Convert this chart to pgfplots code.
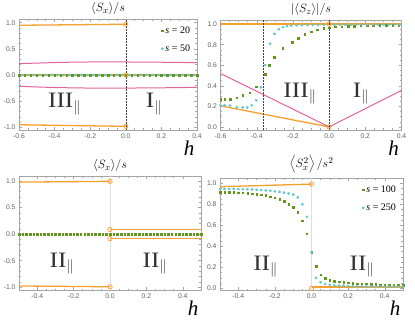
\documentclass[border=0pt]{standalone}
\usepackage{pgfplots}
\pgfplotsset{compat=1.18}
\usepackage{fontspec}
\setmainfont{Liberation Serif}
\newfontfamily\tickfont{Liberation Sans}
\definecolor{mOrange}{RGB}{247,160,45}
\definecolor{mPink}{RGB}{222,100,155}
\definecolor{mGreen}{RGB}{100,150,30}
\definecolor{mCyan}{RGB}{95,200,210}
\definecolor{frameGray}{RGB}{165,165,165}
\definecolor{labGray}{RGB}{95,95,95}
\definecolor{regText}{RGB}{50,50,50}

\newcommand{\reg}[1]{\scalebox{1.15}[1]{#1}$_{\parallel}$}
\tikzset{reg/.style={inner sep=0pt, text=regText, font=\fontsize{22}{22}\selectfont}}
\pgfplotsset{
  mma/.style={
    scale only axis, anchor=south west,
    axis line style={frameGray, line width=0.5pt},
    tick align=inside, xtick pos=both, ytick pos=both,
    xticklabel pos=lower, yticklabel pos=left,
    major tick length=3pt, minor tick length=1.6pt,
    every tick/.style={frameGray, line width=0.4pt},
    tick label style={font=\tickfont\fontsize{6.8}{7}\selectfont, text=labGray},
    /pgf/number format/assume math mode=true,
    /pgf/number format/fixed, /pgf/number format/fixed zerofill,
    /pgf/number format/precision=1,
    title style={font=\fontsize{13}{15}\selectfont, yshift=-5pt},
    xlabel style={at={(rel axis cs:1,0)}, anchor=north east, yshift=-7pt, xshift=1pt,
      font=\fontsize{21}{21}\selectfont},
    legend style={draw=none, fill=none, font=\fontsize{10}{11}\selectfont,
      at={(0.99,0.97)}, anchor=north east, row sep=6pt},
    legend cell align=left,
  },
  oline/.style={mOrange, line width=1.3pt, forget plot},
  pline/.style={mPink, line width=1pt, forget plot},
  vdash/.style={black!75, line width=0.4pt, dash pattern=on 1.6pt off 1.4pt, forget plot},
  ocirc/.style={only marks, mark=o, mark size=2.2pt, mOrange, mark options={line width=0.7pt}, forget plot},
  gdots/.style={only marks, mark=square*, mark size=0.75pt, mGreen},
  cdots/.style={only marks, mark=*, mark size=1.2pt, mCyan},
}

\begin{document}
\begin{tikzpicture}
\path[use as bounding box] (0,0) rectangle (415pt,323pt);

% ---- top left
\begin{axis}[mma, at={(19pt,193pt)}, width=178pt, height=111pt,
  xmin=-0.6, xmax=0.4, ymin=-1.05, ymax=1.07,
  xtick={-0.6,-0.4,...,0.4}, ytick={-1,-0.5,0,0.5,1},
  minor x tick num=3, minor y tick num=4,
  title={$\langle S_x\rangle/s$}, xlabel={\textit{h}}]
\addplot[oline] coordinates {(-0.6,0.95) (0,0.97)};
\addplot[oline] coordinates {(-0.6,-0.95) (0,-0.98)};
\addplot[oline] coordinates {(-0.6,0) (0.4,0)};
\addplot[pline, smooth] coordinates {(-0.6,0.215) (-0.5,0.228) (-0.4,0.238) (-0.3,0.245) (-0.2,0.249) (-0.1,0.25) (0,0.249) (0.1,0.247) (0.2,0.244) (0.3,0.24) (0.4,0.236)};
\addplot[pline, smooth] coordinates {(-0.6,-0.215) (-0.5,-0.228) (-0.4,-0.238) (-0.3,-0.245) (-0.2,-0.249) (-0.1,-0.25) (0,-0.249) (0.1,-0.247) (0.2,-0.244) (0.3,-0.24) (0.4,-0.236)};
\addplot[vdash] coordinates {(0,-1.05) (0,1.07)};
\addplot[gdots] coordinates {(-0.6,0) (-0.5667,0) (-0.5333,0) (-0.5,0) (-0.4667,0) (-0.4333,0) (-0.4,0) (-0.3667,0) (-0.3333,0) (-0.3,0) (-0.2667,0) (-0.2333,0) (-0.2,0) (-0.1667,0) (-0.1333,0) (-0.1,0) (-0.0667,0) (-0.0333,0) (0,0) (0.0333,0) (0.0667,0) (0.1,0) (0.1333,0) (0.1667,0) (0.2,0) (0.2333,0) (0.2667,0) (0.3,0) (0.3333,0) (0.3667,0) (0.4,0)};
\addplot[cdots] coordinates {(-0.5833,0) (-0.55,0) (-0.5167,0) (-0.4833,0) (-0.45,0) (-0.4167,0) (-0.3833,0) (-0.35,0) (-0.3167,0) (-0.2833,0) (-0.25,0) (-0.2167,0) (-0.1833,0) (-0.15,0) (-0.1167,0) (-0.0833,0) (-0.05,0) (-0.0167,0) (0.0167,0) (0.05,0) (0.0833,0) (0.1167,0) (0.15,0) (0.1833,0) (0.2167,0) (0.25,0) (0.2833,0) (0.3167,0) (0.35,0) (0.3833,0)};
\addplot[ocirc] coordinates {(0,0.97) (0,0) (0,-0.98)};
\legend{\textit{s} = 20, \textit{s} = 50}
\node[reg, anchor=base] at (axis cs:-0.344,-0.62) {\reg{III}};
\node[reg, anchor=base] at (axis cs:0.158,-0.62) {\reg{I}};
\end{axis}

% ---- top right
\begin{axis}[mma, at={(220.5pt,193pt)}, width=181pt, height=110pt,
  xmin=-0.6, xmax=0.4, ymin=-0.03, ymax=1.04,
  xtick={-0.6,-0.4,...,0.4}, ytick={0,0.2,...,1.0},
  minor x tick num=3, minor y tick num=3,
  title={$|\langle S_z\rangle|/s$}, xlabel={\textit{h}}]
\addplot[oline] coordinates {(-0.6,1.0) (0.4,1.0)};
\addplot[oline] coordinates {(-0.6,0.205) (0,0)};
\addplot[pline] coordinates {(-0.6,0.52) (0,0) (0.4,0.355)};
\addplot[vdash] coordinates {(-0.363,-0.03) (-0.363,1.04)};
\addplot[vdash] coordinates {(0,-0.03) (0,1.04)};
\addplot[gdots, forget plot] coordinates {(-0.6,0.27) (-0.578,0.27) (-0.547,0.27) (-0.51,0.283) (-0.477,0.31) (-0.44,0.335) (-0.403,0.39) (-0.353,0.515) (-0.33,0.60) (-0.302,0.68) (-0.255,0.765) (-0.205,0.824) (-0.17,0.865) (-0.135,0.9) (-0.1,0.925) (-0.065,0.945) (-0.03,0.958) (0,0.967) (0.035,0.973) (0.07,0.977) (0.105,0.98) (0.14,0.982) (0.175,0.984) (0.21,0.985) (0.245,0.986) (0.28,0.987) (0.315,0.988) (0.35,0.988) (0.385,0.989)};
\addplot[cdots, forget plot] coordinates {(-0.6,0.21) (-0.578,0.21) (-0.547,0.207) (-0.51,0.19) (-0.477,0.19) (-0.452,0.19) (-0.427,0.21) (-0.403,0.26) (-0.377,0.385) (-0.353,0.60) (-0.326,0.81) (-0.302,0.905) (-0.278,0.95) (-0.255,0.97) (-0.233,0.98) (-0.21,0.985) (-0.18,0.99) (-0.15,0.99) (-0.12,0.991) (-0.09,0.992) (-0.06,0.992) (-0.03,0.993) (0.03,0.993) (0.06,0.994) (0.09,0.994) (0.12,0.994) (0.15,0.995) (0.18,0.995) (0.21,0.995) (0.24,0.995) (0.27,0.995) (0.30,0.995) (0.33,0.995) (0.36,0.995) (0.39,0.995)};
\addplot[ocirc] coordinates {(0,1.0) (0,0)};
\node[reg, anchor=base] at (axis cs:-0.161,0.29) {\reg{III}};
\node[reg, anchor=base] at (axis cs:0.176,0.29) {\reg{I}};
\end{axis}

% ---- bottom left
\begin{axis}[mma, at={(19pt,32.5pt)}, width=182pt, height=114.5pt,
  xmin=-0.5, xmax=0.5, ymin=-1.06, ymax=1.09,
  xtick={-0.4,-0.2,...,0.4}, ytick={-1,-0.5,0,0.5,1},
  minor x tick num=3, minor y tick num=4,
  title={$\langle S_x\rangle/s$}, xlabel={\textit{h}}]
\addplot[gray!25, line width=0.5pt, forget plot] coordinates {(0,-1.06) (0,1.09)};
\addplot[oline] coordinates {(-0.5,0.975) (0,0.99)};
\addplot[oline] coordinates {(-0.5,-0.975) (0,-0.99)};
\addplot[oline] coordinates {(0,0.085) (0.5,0.085)};
\addplot[oline] coordinates {(0,-0.085) (0.5,-0.085)};
\addplot[gdots, mark size=0.8pt, forget plot] coordinates {(-0.5,0) (-0.48,0) (-0.46,0) (-0.44,0) (-0.42,0) (-0.4,0) (-0.38,0) (-0.36,0) (-0.34,0) (-0.32,0) (-0.3,0) (-0.28,0) (-0.26,0) (-0.24,0) (-0.22,0) (-0.2,0) (-0.18,0) (-0.16,0) (-0.14,0) (-0.12,0) (-0.1,0) (-0.08,0) (-0.06,0) (-0.04,0) (-0.02,0) (0,0) (0.02,0) (0.04,0) (0.06,0) (0.08,0) (0.1,0) (0.12,0) (0.14,0) (0.16,0) (0.18,0) (0.2,0) (0.22,0) (0.24,0) (0.26,0) (0.28,0) (0.3,0) (0.32,0) (0.34,0) (0.36,0) (0.38,0) (0.4,0) (0.42,0) (0.44,0) (0.46,0) (0.48,0) (0.5,0)};
\addplot[ocirc] coordinates {(0,0.99) (0,-0.99) (0,0.085) (0,-0.085)};
\node[reg, anchor=base] at (axis cs:-0.264,-0.62) {\reg{II}};
\node[reg, anchor=base] at (axis cs:0.247,-0.62) {\reg{II}};
\end{axis}

% ---- bottom right
\begin{axis}[mma, at={(220pt,32.5pt)}, width=183pt, height=112.5pt,
  xmin=-0.5, xmax=0.5, ymin=-0.02, ymax=1.05,
  xtick={-0.4,-0.2,...,0.4}, ytick={0,0.2,...,1.0},
  minor x tick num=3, minor y tick num=3,
  title={$\left\langle S_x^2\right\rangle/s^2$}, xlabel={\textit{h}}]
\addplot[gray!25, line width=0.5pt, forget plot] coordinates {(0,-0.02) (0,1.05)};
\addplot[oline] coordinates {(-0.5,0.967) (0,0.992)};
\addplot[oline] coordinates {(0,0.012) (0.5,0.012)};
\addplot[gdots] coordinates {(-0.5,0.915) (-0.475,0.915) (-0.45,0.915) (-0.425,0.914) (-0.4,0.912) (-0.375,0.91) (-0.35,0.907) (-0.325,0.903) (-0.3,0.898) (-0.275,0.892) (-0.25,0.884) (-0.225,0.874) (-0.2,0.862) (-0.175,0.847) (-0.15,0.828) (-0.125,0.80) (-0.1,0.77) (-0.075,0.725) (-0.05,0.645) (-0.025,0.52) (0,0.345) (0.025,0.21) (0.05,0.13) (0.075,0.097) (0.1,0.08) (0.125,0.07) (0.15,0.063) (0.175,0.058) (0.2,0.054) (0.225,0.05) (0.25,0.047) (0.275,0.045) (0.3,0.043) (0.325,0.041) (0.35,0.039) (0.375,0.037) (0.4,0.036) (0.425,0.035) (0.45,0.034) (0.475,0.033) (0.5,0.032)};
\addplot[cdots] coordinates {(-0.5,0.945) (-0.475,0.946) (-0.45,0.946) (-0.425,0.946) (-0.4,0.945) (-0.375,0.944) (-0.35,0.943) (-0.325,0.941) (-0.3,0.938) (-0.275,0.935) (-0.25,0.932) (-0.225,0.928) (-0.2,0.923) (-0.175,0.918) (-0.15,0.911) (-0.125,0.903) (-0.1,0.893) (-0.075,0.865) (-0.05,0.80) (-0.025,0.68) (0,0.345) (0.025,0.10) (0.05,0.058) (0.075,0.042) (0.1,0.034) (0.125,0.029) (0.15,0.026) (0.175,0.024) (0.2,0.022) (0.225,0.021) (0.25,0.02) (0.275,0.019) (0.3,0.018) (0.325,0.018) (0.35,0.017) (0.375,0.017) (0.4,0.016) (0.425,0.016) (0.45,0.016) (0.475,0.015) (0.5,0.015)};
\addplot[ocirc] coordinates {(0,0.992) (0,0.0)};
\legend{\textit{s} = 100, \textit{s} = 250}
\node[reg, anchor=base] at (axis cs:-0.251,0.174) {\reg{II}};
\node[reg, anchor=base] at (axis cs:0.276,0.174) {\reg{II}};
\end{axis}
\end{tikzpicture}
\end{document}
